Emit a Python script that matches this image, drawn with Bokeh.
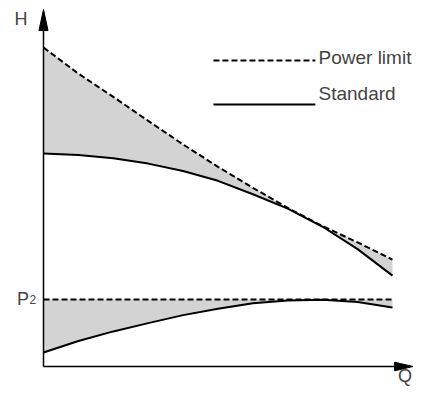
from bokeh.plotting import figure
from bokeh.models import Range1d, Label
from bokeh.embed import file_html
from bokeh.resources import INLINE

# ---- data (relative units: Q in % of range, H in % of max power-limit head)
Q = [0, 10, 20, 30, 40, 50, 60, 70, 80, 90, 100]
power_limit_H = [100, 91.8, 84.5, 77.0, 69.6, 62.6, 56.0, 49.7, 44.0, 38.9, 33.5]
standard_H = [66.8, 66.3, 65.3, 63.6, 61.3, 58.2, 54.0, 49.5, 43.8, 36.8, 28.5]
standard_P = [4.4, 8.0, 11.0, 13.6, 16.1, 18.1, 19.8, 20.7, 20.9, 20.2, 18.5]
P2_limit = [21.0] * len(Q)

x_label = "Q"
y_label = "H"
legend_labels = ["Power limit", "Standard"]

FONT = "Liberation Sans"
GREY = "#d3d3d3"

p = figure(width=413, height=386,
           x_range=Range1d(-12.32, 106.02), y_range=Range1d(-6.27, 114.73),
           x_axis_type=None, y_axis_type=None,
           output_backend="svg", toolbar_location=None, min_border=0)
p.grid.visible = False
p.outline_line_color = None
p.background_fill_color = "white"

# shaded regions
p.varea(x=Q, y1=standard_H, y2=power_limit_H, fill_color=GREY)
p.varea(x=Q, y1=standard_P, y2=P2_limit, fill_color=GREY)

# curves
p.line(Q, power_limit_H, line_color="black", line_width=2, line_dash="6 3")
p.line(Q, standard_H, line_color="black", line_width=2)
p.line(Q, P2_limit, line_color="black", line_width=2, line_dash="6 3")
p.line(Q, standard_P, line_color="black", line_width=2)

# axes with arrow heads
Y_TIP, Y_BASE, X_TIP, X_BASE = 111.9, 105.3, 105.9, 100.6
p.line([0, 0], [0, Y_BASE + 1], line_color="black", line_width=1.5)
p.line([0, X_BASE + 1], [0, 0], line_color="black", line_width=1.5)
p.patch([-1.3, 0, 1.3], [Y_BASE, Y_TIP, Y_BASE], fill_color="black", line_color="black", line_width=1)
p.patch([X_BASE, X_TIP, X_BASE], [1.35, 0, -1.35], fill_color="black", line_color="black", line_width=1)

# legend (hand drawn)
p.line([48.7, 77.9], [95.9, 95.9], line_color="black", line_width=2, line_dash="6 3")
p.line([48.7, 77.9], [82.1, 82.1], line_color="black", line_width=2)
p.add_layout(Label(x=78.8, y=97.0, text=legend_labels[0], text_font=FONT, text_font_size="19px",
                   text_baseline="alphabetic", text_align="left"))
p.add_layout(Label(x=78.8, y=85.7, text=legend_labels[1], text_font=FONT, text_font_size="19px",
                   text_baseline="alphabetic", text_align="left"))

# axis labels
p.add_layout(Label(x=-6.45, y=108.9, text=y_label, text_font=FONT, text_font_size="18px",
                   text_baseline="alphabetic", text_align="center"))
p.add_layout(Label(x=105.6, y=-6.25, text=x_label, text_font=FONT, text_font_size="18px",
                   text_baseline="bottom", text_align="right"))
p.add_layout(Label(x=-4.15, y=21.15, text="P", text_font=FONT, text_font_size="18px",
                   text_baseline="alphabetic", text_align="right"))
p.add_layout(Label(x=-4.0, y=21.15, text="2", text_font=FONT, text_font_size="12px",
                   text_baseline="alphabetic", text_align="left"))

open("out.html", "w").write(file_html(p, INLINE))
